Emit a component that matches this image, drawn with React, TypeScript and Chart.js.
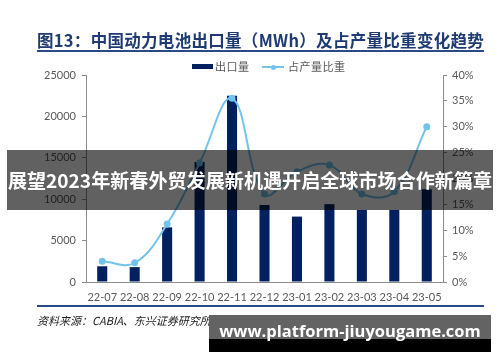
import React, { useEffect, useRef } from "react";
import { Chart, registerables } from "chart.js";

Chart.register(...registerables);

const categories = ["22-07", "22-08", "22-09", "22-10", "22-11", "22-12", "23-01", "23-02", "23-03", "23-04", "23-05"];
const exportVolume = [1900, 1800, 6600, 14500, 22500, 9300, 7900, 9400, 8700, 8700, 11200];
const shareOfOutput = [4.0, 3.7, 11.2, 23.0, 35.5, 17.0, 21.3, 22.6, 17.0, 17.5, 30.0];
const leftTicks = { min: 0, max: 25000, step: 5000 };
const rightTicks = { min: 0, max: 40, step: 5 };

const titleText = "图13：中国动力电池出口量（MWh）及占产量比重变化趋势";
const sourceText = "资料来源：CABIA、东兴证券研究所";
const bannerText = "展望2023年新春外贸发展新机遇开启全球市场合作新篇章";
const watermarkText = "www.platform-jiuyougame.com";
const barLabel = "出口量";
const lineLabel = "占产量比重";

const NAVY = "#002060";
const SKY = "#72C4EC";
const AXIS = "#8c8c8c";
const TICK_TEXT = "#595959";

export default function App() {
  const canvasRef = useRef<HTMLCanvasElement | null>(null);

  useEffect(() => {
    const canvas = canvasRef.current;
    if (!canvas) return;
    const tickFont = { family: "Lato, 'Liberation Sans', sans-serif", size: 11 };
    const chart = new Chart(canvas, {
      type: "bar",
      data: {
        labels: categories,
        datasets: [
          {
            type: "line",
            label: lineLabel,
            data: shareOfOutput,
            yAxisID: "y1",
            borderColor: SKY,
            backgroundColor: SKY,
            borderWidth: 2,
            pointRadius: 2.5,
            pointHoverRadius: 2.5,
            tension: 0.4,
            order: 0,
          },
          {
            type: "bar",
            label: barLabel,
            data: exportVolume,
            yAxisID: "y",
            backgroundColor: NAVY,
            categoryPercentage: 1,
            barPercentage: 0.31,
            order: 1,
          },
        ],
      },
      options: {
        responsive: false,
        animation: false,
        devicePixelRatio: 1,
        layout: { padding: { top: 75, left: 0, right: 0, bottom: 0 } },
        plugins: { legend: { display: false }, tooltip: { enabled: false } },
        scales: {
          x: {
            grid: { display: false, drawTicks: false },
            border: { display: true, color: AXIS, width: 1 },
            ticks: { padding: 9, color: TICK_TEXT, font: tickFont, maxRotation: 0, autoSkip: false },
            afterFit: (s: any) => { s.height = 80; },
          },
          y: {
            position: "left",
            min: leftTicks.min,
            max: leftTicks.max,
            ticks: {
              stepSize: leftTicks.step,
              padding: 6,
              color: TICK_TEXT,
              font: tickFont,
              callback: (v: any) => `${v}`,
            },
            grid: { drawOnChartArea: false, drawTicks: true, tickLength: 4, color: AXIS },
            border: { display: true, color: AXIS, width: 1 },
            afterFit: (s: any) => { s.width = 86; },
          },
          y1: {
            position: "right",
            min: rightTicks.min,
            max: rightTicks.max,
            ticks: {
              stepSize: rightTicks.step,
              padding: 5,
              color: TICK_TEXT,
              font: tickFont,
              callback: (v: any) => `${v}%`,
            },
            grid: { drawOnChartArea: false, drawTicks: true, tickLength: 4, color: AXIS },
            border: { display: true, color: AXIS, width: 1 },
            afterFit: (s: any) => { s.width = 57; },
          },
        },
      },
    });
    return () => chart.destroy();
  }, []);

  const cjk = "'Noto Sans CJK SC', 'Noto Sans', sans-serif";

  return (
    <div style={{ position: "absolute", left: 0, top: 0, width: 500, height: 362, background: "#fff", overflow: "hidden" }}>
      <canvas ref={canvasRef} width={500} height={362} style={{ position: "absolute", left: 0, top: 0, width: 500, height: 362 }} />
      {/* title */}
      <div style={{ position: "absolute", left: 37, top: 28, width: 447, fontFamily: cjk, fontWeight: 700, fontSize: 16.5, color: "#1F3B73", whiteSpace: "nowrap", lineHeight: "24px", letterSpacing: 0.3 }}>
        {titleText}
      </div>
      <div style={{ position: "absolute", left: 37, top: 50, width: 447, height: 2, background: "#2A4A86" }} />
      {/* legend */}
      <div style={{ position: "absolute", left: 192, top: 64, width: 21, height: 5, background: NAVY }} />
      <div style={{ position: "absolute", left: 215, top: 58, fontFamily: cjk, fontSize: 11, color: TICK_TEXT, lineHeight: "16px", letterSpacing: 0.5, whiteSpace: "nowrap" }}>{barLabel}</div>
      <div style={{ position: "absolute", left: 262, top: 66, width: 22, height: 2, background: SKY }} />
      <div style={{ position: "absolute", left: 270.5, top: 64.5, width: 5, height: 5, borderRadius: 3, background: SKY }} />
      <div style={{ position: "absolute", left: 288, top: 58, fontFamily: cjk, fontSize: 11, color: TICK_TEXT, lineHeight: "16px", letterSpacing: 0.5, whiteSpace: "nowrap" }}>{lineLabel}</div>
      {/* bottom rule and source */}
      <div style={{ position: "absolute", left: 37, top: 305, width: 447, height: 2, background: "#2A4A86" }} />
      <div style={{ position: "absolute", left: 37, top: 312, fontFamily: cjk, fontStyle: "italic", fontSize: 11, color: "#222", lineHeight: "16px", whiteSpace: "nowrap" }}>{sourceText}</div>
      {/* banner overlay */}
      <div style={{ position: "absolute", left: 7, top: 150, width: 486, height: 60, background: "rgba(0,0,0,0.62)", display: "flex", alignItems: "center", justifyContent: "center" }}>
        <span style={{ fontFamily: cjk, fontWeight: 700, fontSize: 19.1, color: "#fff", whiteSpace: "nowrap", lineHeight: "24px" }}>{bannerText}</span>
      </div>
      {/* watermark */}
      <div style={{ position: "absolute", left: 209, top: 315, width: 282, height: 24, background: "#636363" }} />
      <div style={{ position: "absolute", left: 209, top: 339, width: 282, height: 13, background: "#000" }} />
      <div style={{ position: "absolute", left: 209, top: 318, width: 282, textAlign: "center", fontFamily: "'Open Sans', sans-serif", fontWeight: 700, fontSize: 16.5, color: "#fff", lineHeight: "26px", whiteSpace: "nowrap" }}>{watermarkText}</div>
    </div>
  );
}
